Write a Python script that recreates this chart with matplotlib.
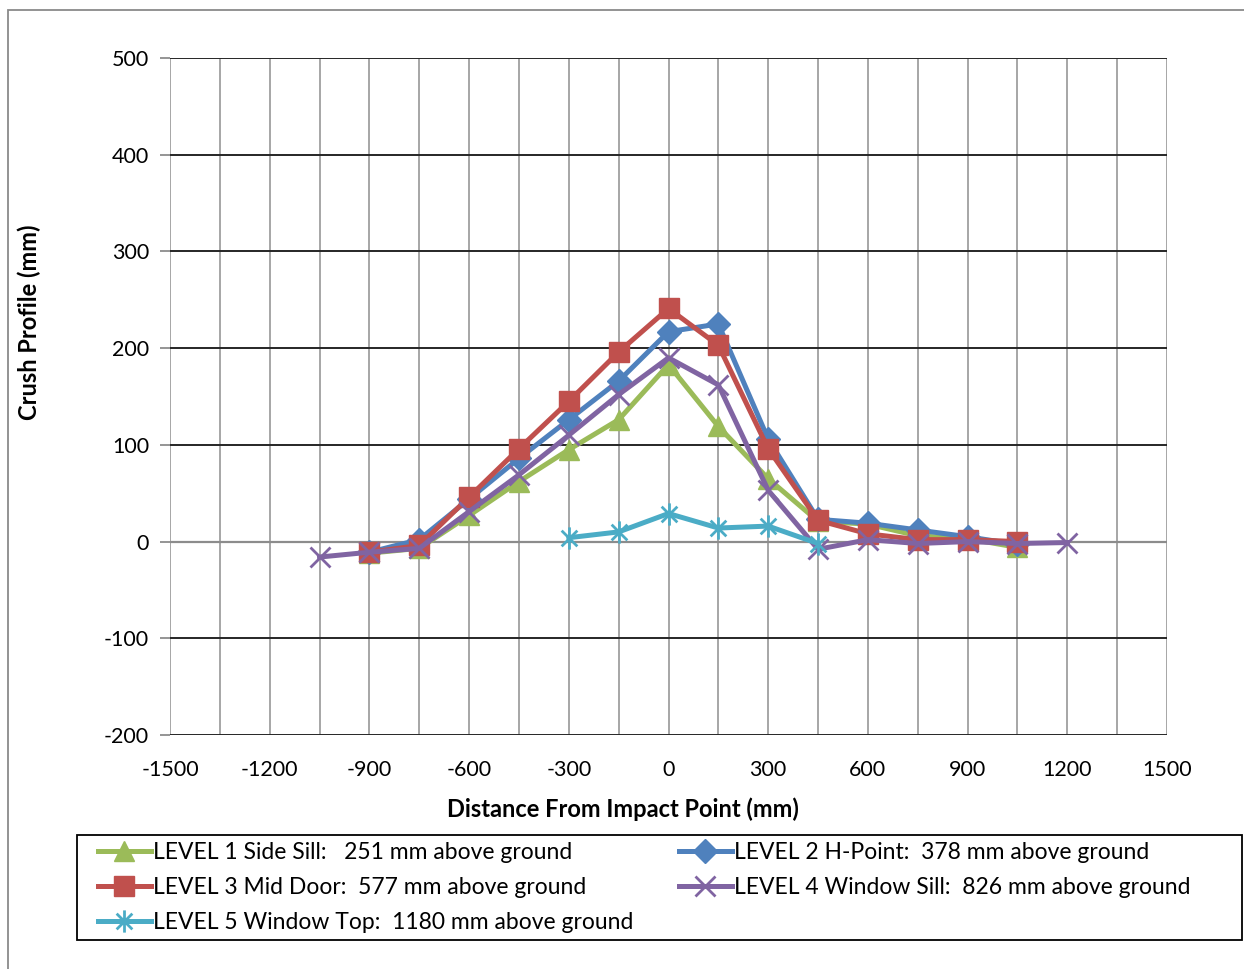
import numpy as np
import matplotlib
matplotlib.use("Agg")
import matplotlib.pyplot as plt
from matplotlib.path import Path
from matplotlib.patches import Rectangle

plt.rcParams["font.family"] = ["Lato", "DejaVu Sans"]
plt.rcParams["axes.unicode_minus"] = False

# distance from impact point (mm) for each measurement station
X_L1 = [-900, -750, -600, -450, -300, -150, 0, 150, 300, 450, 600, 750, 900, 1050]
Y_L1 = [-12, -7, 27, 62, 95, 126, 183, 119, 65, 21, 18, 6, 3, -6]

X_L2 = [-900, -750, -600, -450, -300, -150, 0, 150, 300, 450, 600, 750, 900, 1050]
Y_L2 = [-11, 2, 44, 86, 126, 166, 217, 225, 106, 23, 19, 12, 5, -3]

X_L3 = [-900, -750, -600, -450, -300, -150, 0, 150, 300, 450, 600, 750, 900, 1050]
Y_L3 = [-11, -4, 46, 96, 145, 196, 241, 203, 96, 22, 8, 2, 2, 0]

X_L4 = [-1050, -900, -750, -600, -450, -300, -150, 0, 150, 300, 450, 600, 750, 900, 1050, 1200]
Y_L4 = [-16, -11, -7, 31, 69, 110, 152, 190, 162, 53, -8, 2, -2, 0, -2, -1]

X_L5 = [-300, -150, 0, 150, 300, 450]
Y_L5 = [4, 10, 29, 14, 16, -2]

LABELS = [
    "LEVEL 1 Side Sill:   251 mm above ground",
    "LEVEL 2 H-Point:  378 mm above ground",
    "LEVEL 3 Mid Door:  577 mm above ground",
    "LEVEL 4 Window Sill:  826 mm above ground",
    "LEVEL 5 Window Top:  1180 mm above ground",
]
COLORS = ["#9BBB59", "#4F81BD", "#C0504D", "#8064A2", "#4BACC6"]

# Excel-style star marker: x plus a vertical bar
d = 0.7071
STAR = Path(
    [(-d, -d), (d, d), (-d, d), (d, -d), (0, -1), (0, 1)],
    [Path.MOVETO, Path.LINETO, Path.MOVETO, Path.LINETO, Path.MOVETO, Path.LINETO],
)

W, H = 1244, 969
fig = plt.figure(figsize=(W / 100, H / 100), dpi=100)
ax = fig.add_axes([170 / W, 1 - 735 / H, 997 / W, 677 / H])

# outer chart border (runs off the right and bottom edges)
fig.patches.append(Rectangle((8 / W, -1), 2, 2 - 10 / H, transform=fig.transFigure,
                             fill=False, edgecolor="#8a8a8a", lw=1.3, zorder=0))

ax.set_xlim(-1500, 1500)
ax.set_ylim(-200, 500)

for xv in np.arange(-1500, 1501, 150):
    ax.axvline(xv, color="#a6a6a6", lw=1.4, zorder=1)
for yv in np.arange(-200, 501, 100):
    if yv == 0:
        continue
    ax.axhline(yv, color="#262626", lw=1.4, zorder=1)
ax.axhline(0, color="#8c8c8c", lw=1.6, zorder=1)

for s in ax.spines.values():
    s.set_visible(False)

series = [
    (X_L1, Y_L1, "^", 15, None),
    (X_L2, Y_L2, "D", 12, None),
    (X_L3, Y_L3, "s", 15, None),
    (X_L4, Y_L4, "x", 15, 2.0),
    (X_L5, Y_L5, STAR, 16, 2.0),
]
handles = []
for (xs, ys, mk, ms, mew), lab, col in zip(series, LABELS, COLORS):
    kw = dict(markeredgewidth=mew) if mew else dict(markeredgecolor=col)
    h, = ax.plot(xs, ys, color=col, lw=3.6, marker=mk, markersize=ms,
                 markerfacecolor=col, label=lab, zorder=3, **kw)
    handles.append(h)

ax.set_xticks(np.arange(-1500, 1501, 300))
ax.set_yticks(np.arange(-200, 501, 100))
ax.tick_params(axis="y", length=7, width=1.3, color="#8c8c8c", labelsize=15.5, pad=8)
ax.tick_params(axis="x", length=0, labelsize=15.5, pad=18)

ax.set_xlabel("Distance From Impact Point (mm)", fontsize=17, fontweight="bold")
ax.xaxis.set_label_coords((623 - 170) / 997, (735 - 797) / 677)
ax.set_ylabel("Crush Profile (mm)", fontsize=17, fontweight="bold")
ax.yaxis.set_label_coords((41 - 170) / 997, (735 - 322) / 677)

# legend: frame drawn by hand, two columns placed at fixed x positions
fig.patches.append(Rectangle((77 / W, 1 - 940 / H), 1165 / W, 105 / H, transform=fig.transFigure,
                             fill=False, edgecolor="black", lw=1.3, zorder=5))
leg_kw = dict(loc="upper left", fontsize=16.5, frameon=False, handlelength=2.3,
              handletextpad=0.12, borderaxespad=0, borderpad=0, labelspacing=0.62)
fig.legend([handles[i] for i in (0, 2, 4)], [LABELS[i] for i in (0, 2, 4)],
           bbox_to_anchor=(98 / W, 1 - 842 / H), **leg_kw)
fig.legend([handles[i] for i in (1, 3)], [LABELS[i] for i in (1, 3)],
           bbox_to_anchor=(679 / W, 1 - 842 / H), **leg_kw)

fig.savefig("out.png", dpi=100)
